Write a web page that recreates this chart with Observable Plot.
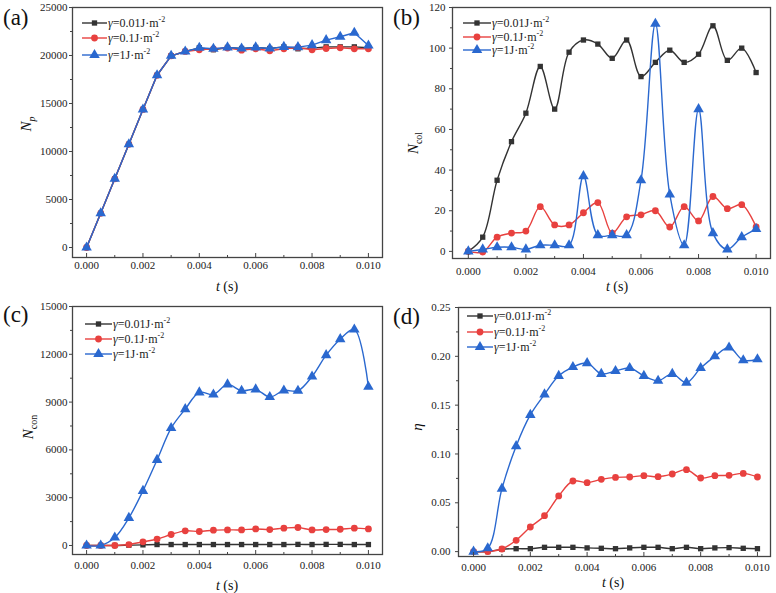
<!DOCTYPE html>
<html><head><meta charset="utf-8">
<script src="https://cdn.jsdelivr.net/npm/d3@7"></script>
<script src="https://cdn.jsdelivr.net/npm/@observablehq/plot@0.6"></script>
<style>
body{margin:0;background:#fff}
#root{position:relative;width:776px;height:593px;overflow:hidden;background:#fff}
.panel{position:absolute}
</style></head><body><div id="root"></div>
<script>
// time axis (s)
const t = [0,0.0005,0.001,0.0015,0.002,0.0025,0.003,0.0035,0.004,0.0045,0.005,0.0055,0.006,0.0065,0.007,0.0075,0.008,0.0085,0.009,0.0095,0.01];

// (a) N_p
const np001 = [0,3560,7155,10750,14380,17940,19965,20420,20800,20600,20840,20730,20840,20730,20900,20700,20770,20900,20900,20900,20800];
const np01  = [0,3560,7155,10750,14380,17940,19965,20420,20600,20700,20770,20560,20700,20490,20700,20840,20600,20730,20800,20700,20700];
const np1   = [0,3560,7155,10750,14380,17940,19965,20420,20800,20700,20840,20730,20840,20730,20900,20870,21080,21600,21950,22370,21040];

// (b) N_col
const col001 = [0,7,35,54,68,91,70,98,104,102,95,104,86,93,99,93,97,111,94,100,88];
const col01  = [0,-0.3,7,9,10,22,13,13,19,24,9,17,18,20,12,22,15,27,21,23,12];
const col1   = [0,1,2,2,1,3,3,3,37,8,8,8,35,112,28,3,70,9,1,7,11];

// (c) N_con
const con001 = [0,0,0,20,40,60,60,60,60,60,60,60,60,60,60,70,60,70,70,60,60];
const con01  = [0,0,0,60,230,400,690,920,880,960,980,980,1040,1000,1090,1130,980,1000,1020,1090,1040];
const con1   = [0,0,500,1730,3430,5370,7370,8560,9610,9480,10110,9710,9800,9320,9730,9710,10610,11950,12950,13560,9960];

// (d) eta
const eta001 = [0,0,0.0024,0.003,0.003,0.0044,0.0044,0.0044,0.0038,0.0034,0.003,0.0038,0.0044,0.0044,0.003,0.0044,0.003,0.0038,0.0041,0.0034,0.003];
const eta01  = [0,0,0.0027,0.0116,0.0252,0.0368,0.057,0.0723,0.0706,0.074,0.076,0.0764,0.0778,0.0767,0.0795,0.0839,0.0754,0.0778,0.0781,0.0801,0.0764];
const eta1   = [0,0.0034,0.0645,0.108,0.140,0.161,0.180,0.189,0.193,0.182,0.185,0.188,0.180,0.175,0.182,0.173,0.188,0.200,0.209,0.196,0.197];

// tick labels
const xTicks = [0,0.002,0.004,0.006,0.008,0.01];
const xMinor = [0.001,0.003,0.005,0.007,0.009];
const npTicks = [0,5000,10000,15000,20000,25000];
const colTicks = [0,20,40,60,80,100,120];
const conTicks = [0,3000,6000,9000,12000,15000];
const etaTicks = [0,0.05,0.10,0.15,0.20,0.25];

const seriesGamma = ["0.01","0.1","1"];
const seriesColors = ["#333333","#e8413f","#2a68cf"];
const seriesSymbols = ["square","circle","triangle"];
const seriesR = [3.0,3.4,3.9];

const FONT = "'Liberation Serif', 'Times New Roman', serif";
const root = document.getElementById("root");

function midpoints(a){const m=[];for(let i=0;i<a.length-1;i++)m.push((a[i]+a[i+1])/2);return m;}

function makePanel(o){
  const plotH = o.height - o.mt - o.mb;
  const marks = [];
  o.series.forEach((arr,i)=>{
    const rows = t.map((x,j)=>({t:x, v:arr[j]}));
    marks.push(Plot.line(rows,{x:"t",y:"v",stroke:seriesColors[i],strokeWidth:1.4,curve:o.curve||"catmull-rom"}));
    marks.push(Plot.dot(rows,{x:"t",y:"v",symbol:seriesSymbols[i],fill:seriesColors[i],stroke:"none",r:seriesR[i]}));
  });
  marks.push(Plot.axisY({ticks:o.yTicks,tickSize:3,tickPadding:o.yPad,tickFormat:o.yFormat,label:null,stroke:"#444",fontFamily:FONT}));
  marks.push(Plot.axisY({ticks:midpoints(o.yTicks),tickSize:2,tickPadding:0,tickFormat:()=> "",label:null,stroke:"#444"}));
  marks.push(Plot.axisX({ticks:xTicks,tickSize:0,tickPadding:o.xPad,tickFormat:d3.format(".3f"),label:null,fontFamily:FONT}));
  marks.push(Plot.tickX(xTicks,{x:d=>d,insetTop:plotH-4,stroke:"#444"}));
  marks.push(Plot.tickX(xMinor,{x:d=>d,insetTop:plotH-2,stroke:"#444"}));
  marks.push(Plot.frame({stroke:"#444",strokeWidth:1.3}));
  const svg = Plot.plot({
    width:o.width,height:o.height,
    marginLeft:o.ml,marginRight:o.mr,marginTop:o.mt,marginBottom:o.mb,
    x:{domain:o.xDomain,label:null},
    y:{domain:o.yDomain,label:null},
    style:{fontFamily:FONT,fontSize:"11px",color:"#222",background:"#fff",overflow:"visible"},
    marks
  });
  const div = document.createElement("div");
  div.className="panel";
  div.style.left=o.left+"px"; div.style.top=o.top+"px";
  div.appendChild(svg);
  root.appendChild(div);
  const s = d3.select(svg);
  const L=o.left, T=o.top;
  // panel letter
  s.append("text").attr("x",o.letterXY[0]-L).attr("y",o.letterXY[1]-T).attr("text-anchor","start")
    .attr("font-family",FONT).attr("font-size",23).attr("fill","#111").text(o.letter);
  // x label
  const xl = s.append("text").attr("x",o.xLabelXY[0]-L).attr("y",o.xLabelXY[1]-T)
    .attr("text-anchor","middle").attr("font-family",FONT).attr("font-size",14).attr("fill","#111");
  xl.append("tspan").attr("font-style","italic").text("t");
  xl.append("tspan").text(" (s)");
  // y label
  const yl = s.append("text").attr("transform",`translate(${o.yLabelXY[0]-L},${o.yLabelXY[1]-T}) rotate(-90)`)
    .attr("text-anchor","middle").attr("font-family",FONT).attr("font-size",15).attr("fill","#111");
  yl.append("tspan").attr("font-style","italic").text(o.yLabel[0]);
  if(o.yLabel[1]) yl.append("tspan").attr("font-size",10).attr("dy",4).attr("font-style",o.subItalic?"italic":"normal").text(o.yLabel[1]);
  // legend
  const lg = o.legend;
  seriesGamma.forEach((g,i)=>{
    const y = lg.rows[i]-T;
    s.append("line").attr("x1",lg.x0-L).attr("x2",lg.x1-L).attr("y1",y).attr("y2",y)
      .attr("stroke",seriesColors[i]).attr("stroke-width",1.4);
    s.append("path").attr("transform",`translate(${(lg.x0+lg.x1)/2-L},${y})`)
      .attr("d",d3.symbol(d3["symbol"+seriesSymbols[i][0].toUpperCase()+seriesSymbols[i].slice(1)], Math.PI*seriesR[i]*seriesR[i])())
      .attr("fill",seriesColors[i]);
    const tx = s.append("text").attr("x",lg.tx-L).attr("y",y+4).attr("text-anchor","start").attr("font-family",FONT)
      .attr("font-size",12).attr("fill","#222");
    tx.append("tspan").attr("font-style","italic").text("γ");
    tx.append("tspan").text("=" + g + "J·m");
    tx.append("tspan").attr("font-size",8).attr("dy",-5).text("-2");
  });
}

makePanel({left:0,top:0,width:390,height:300,ml:72,mr:8,mt:7,mb:43,
  xDomain:[-0.0005,0.0105],yDomain:[-1040,25000],yTicks:npTicks,yFormat:d3.format("d"),yPad:2,xPad:4,
  series:[np001,np01,np1],letter:"(a)",letterXY:[3,25],xLabelXY:[227,291],yLabelXY:[31,124],
  yLabel:["N","p"],subItalic:true,curve:"linear",
  legend:{x0:82,x1:107,tx:108,rows:[23,38,55]}});

makePanel({left:390,top:0,width:386,height:300,ml:62,mr:6,mt:7,mb:42,
  xDomain:[-0.00055,0.0105],yDomain:[-3.5,120],yTicks:colTicks,yFormat:d3.format("d"),yPad:4,xPad:9,
  series:[col001,col01,col1],letter:"(b)",letterXY:[393,25],xLabelXY:[617,291],yLabelXY:[418,143],
  yLabel:["N","col"],
  legend:{x0:463,x1:491,tx:492,rows:[23,37,50]}});

makePanel({left:0,top:300,width:390,height:293,ml:72,mr:8,mt:6,mb:39,
  xDomain:[-0.0005,0.0105],yDomain:[-565,15000],yTicks:conTicks,yFormat:d3.format("d"),yPad:2,xPad:7,
  series:[con001,con01,con1],letter:"(c)",letterXY:[3,322],xLabelXY:[227,590],yLabelXY:[33,427],
  yLabel:["N","con"],
  legend:{x0:85,x1:112,tx:113,rows:[324,339,354]}});

makePanel({left:390,top:300,width:386,height:293,ml:68,mr:6,mt:7,mb:37,
  xDomain:[-0.00053,0.01046],yDomain:[-0.005,0.25],yTicks:etaTicks,yFormat:d3.format(".2f"),yPad:5,xPad:7,
  series:[eta001,eta01,eta1],letter:"(d)",letterXY:[393,324],xLabelXY:[613,587],yLabelXY:[422,427],
  yLabel:["η",null],
  legend:{x0:467,x1:493,tx:494,rows:[316,332,347]}});
</script></body></html>
